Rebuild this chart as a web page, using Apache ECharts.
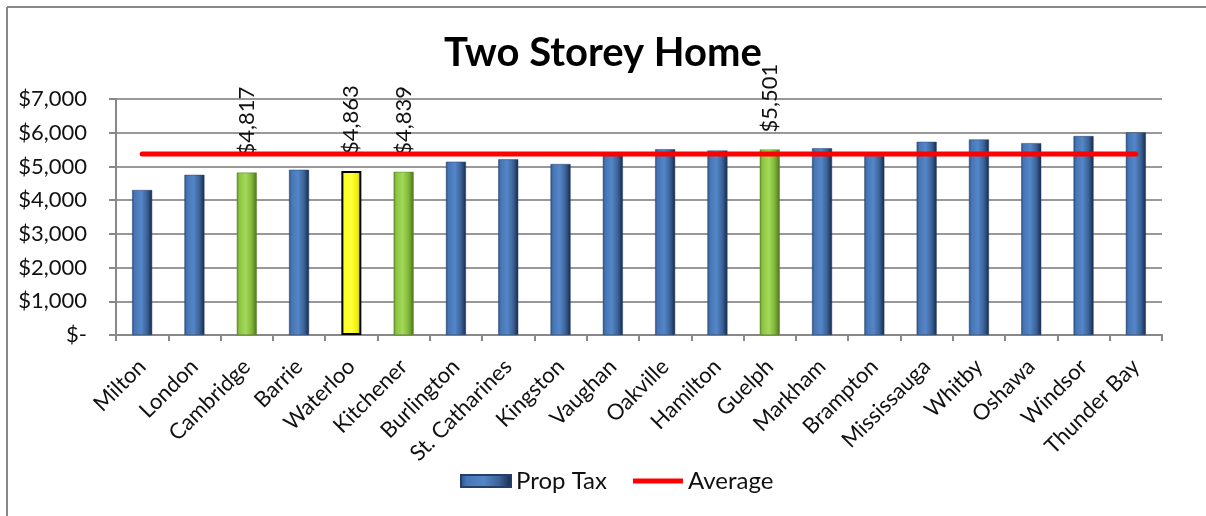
<!DOCTYPE html>
<html>
<head>
<meta charset="utf-8">
<script src="https://cdn.jsdelivr.net/npm/echarts@6/dist/echarts.min.js"></script>
<style>
html,body{margin:0;padding:0;background:#fff;}
#c{width:1206px;height:516px;}
</style>
</head>
<body>
<div id="c"></div>
<script>
const categories = ['Milton','London','Cambridge','Barrie','Waterloo','Kitchener','Burlington','St. Catharines','Kingston','Vaughan','Oakville','Hamilton','Guelph','Markham','Brampton','Mississauga','Whitby','Oshawa','Windsor','Thunder Bay'];
const propTax = [4300,4750,4817,4900,4863,4839,5140,5210,5070,5330,5510,5470,5501,5540,5310,5730,5800,5690,5900,6010];
const averageValue = 5370;
const averageSeries = categories.map(() => averageValue);
const greenCities = ['Cambridge','Kitchener','Guelph'];
const yellowCities = ['Waterloo'];
const labeledCities = ['Cambridge','Waterloo','Kitchener','Guelph'];
const yTicks = [0,1000,2000,3000,4000,5000,6000,7000];

const FONT = 'Lato, "Open Sans", sans-serif';
function grad(stops){
  return new echarts.graphic.LinearGradient(0,0,1,0, stops.map(c=>({offset:c[0],color:c[1]})));
}
const blue = grad([[0,'#2b4f80'],[0.12,'#4675b5'],[0.45,'#5486c8'],[0.75,'#3b6297'],[1,'#17294a']]);
const green = grad([[0,'#5f8f22'],[0.12,'#8cc440'],[0.45,'#a4d95a'],[0.75,'#7fb63a'],[1,'#4c7318']]);
const yellow = grad([[0,'#d8d800'],[0.15,'#ffff20'],[0.5,'#ffff40'],[0.8,'#f0f000'],[1,'#b0b000']]);

function fmtMoney(v){
  if (v === 0) return '$-';
  return '$' + v.toLocaleString('en-US');
}

const barData = categories.map((c,i) => {
  const item = { value: propTax[i] };
  if (greenCities.includes(c)) item.itemStyle = { color: green, borderColor:'#5a7f2a', borderWidth:0.5 };
  if (yellowCities.includes(c)) item.itemStyle = { color: yellow, borderColor:'#000', borderWidth:2 };
  if (labeledCities.includes(c)) item.label = { show: true };
  return item;
});

const chart = echarts.init(document.getElementById('c'), null, {renderer:'canvas'});
chart.setOption({
  backgroundColor: '#fff',
  animation: false,
  title: {
    text: 'Two Storey Home',
    left: 'center',
    top: 28,
    textStyle: { fontFamily: FONT, fontSize: 40, fontWeight: 'bold', color: '#000' }
  },
  legend: {
    bottom: 18,
    left: 455,
    itemGap: 26,
    itemWidth: 50,
    itemHeight: 12,
    textStyle: { fontFamily: FONT, fontSize: 24, color: '#111' },
    data: [
      { name: 'Prop Tax', icon: 'rect' },
      { name: 'Average', icon: 'path://M0,4 L52,4 L52,9 L0,9 Z', itemStyle:{color:'#ff0000'} }
    ]
  },
  grid: { left: 116, right: 44, top: 99, bottom: 181, containLabel: false },
  xAxis: {
    type: 'category',
    data: categories,
    boundaryGap: true,
    axisLine: { lineStyle: { color: '#888', width: 2 } },
    axisTick: { show: true, alignWithLabel: false, length: 6, lineStyle: { color: '#888', width: 2 } },
    axisLabel: { rotate: 45, interval: 0, margin: 28, fontFamily: FONT, fontSize: 22, color: '#111' }
  },
  yAxis: {
    type: 'value',
    min: 0, max: 7000, interval: 1000,
    axisLine: { show: true, lineStyle: { color: '#888', width: 2 } },
    axisTick: { show: true, length: 7, lineStyle: { color: '#888', width: 2 } },
    splitLine: { show: true, lineStyle: { color: '#999', width: 2 } },
    axisLabel: { margin: 29, fontFamily: FONT, fontSize: 22, color: '#111',
      formatter: v => yTicks.includes(v) ? fmtMoney(v) : '' }
  },
  series: [
    {
      name: 'Prop Tax',
      type: 'bar',
      barWidth: 20,
      itemStyle: { color: blue, borderColor: '#24406a', borderWidth: 0.5 },
      label: {
        show: false,
        position: 'top',
        distance: 17,
        rotate: 90,
        align: 'left',
        verticalAlign: 'middle',
        fontFamily: FONT, fontSize: 22, color: '#111',
        formatter: p => fmtMoney(p.value)
      },
      data: barData,
      z: 2
    },
    {
      name: 'Average',
      type: 'line',
      data: averageSeries,
      symbol: 'none',
      lineStyle: { color: '#ff0000', width: 5, cap: 'round' },
      itemStyle: { color: '#ff0000' },
      z: 3
    }
  ],
  graphic: [
    { type: 'line', shape: { x1: 7, y1: 7, x2: 1206, y2: 7 }, style: { stroke: '#888', lineWidth: 2 }, silent: true },
    { type: 'line', shape: { x1: 7, y1: 7, x2: 7, y2: 516 }, style: { stroke: '#888', lineWidth: 2 }, silent: true }
  ]
});
</script>
</body>
</html>
